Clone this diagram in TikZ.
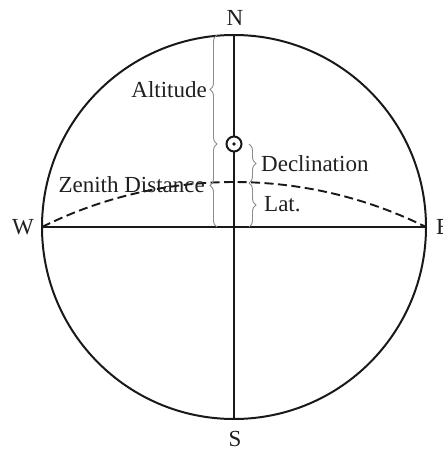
\documentclass[tikz,border=0pt]{standalone}
\usepackage{fontspec}
\setmainfont{Liberation Serif}
\usetikzlibrary{decorations.pathreplacing}
\begin{document}
\begin{tikzpicture}[x=1pt,y=1pt,
  lbl/.style={font=\fontsize{23}{27}\selectfont, text=black!88, inner sep=0pt},
  mainline/.style={line width=2pt, black!90},
  bracestyle/.style={decorate, decoration={brace, amplitude=7pt}, line width=0.9pt, black!45},
  arcline/.style={dashed, dash pattern=on 9pt off 4.5pt, line width=1.9pt, black!90}]
\useasboundingbox (0,0) rectangle (443,450);
% key coordinates
\coordinate (O) at (234,223);
\coordinate (Ntop) at (234,415);
\coordinate (Sbot) at (234,31);
\coordinate (Wpt) at (42,223);
\coordinate (Ept) at (426,223);
\coordinate (sun) at (234,306);
% circle
\draw[mainline] (O) circle[radius=192];
% axes
\draw[mainline] (Ntop) -- (Sbot);
\draw[mainline] (Wpt) -- (Ept);
% dashed arc (great circle)
\draw[arcline] (Wpt) arc[start angle=116.38, end angle=63.62, radius=432.1];
% sun symbol
\node[circle, draw=black!90, fill=white, line width=2pt, minimum size=15pt, inner sep=0pt] (sunc) at (sun) {};
\fill[black!90] (sun) circle[radius=1.8];
% braces left
\coordinate (L1) at (217,223);
\coordinate (L2) at (217,306);
\coordinate (L3) at (217,415);
\draw[bracestyle] (L2) -- (L3);
\draw[bracestyle] (L1) -- (L2);
% braces right
\coordinate (R1) at (249,306);
\coordinate (R2) at (249,267);
\coordinate (R3) at (249,223);
\draw[bracestyle] (R1) -- (R2);
\draw[bracestyle] (R2) -- (R3);
% labels
\node[lbl, anchor=east] (alt) at (207,360) {Altitude};
\node[lbl, anchor=base east] (zd) at (205,257) {Zenith Distance};
\node[lbl, anchor=base west] (dec) at (261,278) {Declination};
\node[lbl, anchor=base west] (lat) at (264,238) {Lat.};
\node[lbl, anchor=base] (N) at (235,424) {N};
\node[lbl, anchor=base] (S) at (235,3.5) {S};
\node[lbl, anchor=base east] (W) at (34,215) {W};
\node[lbl, anchor=base west] (E) at (436,215) {E};
\end{tikzpicture}
\end{document}
